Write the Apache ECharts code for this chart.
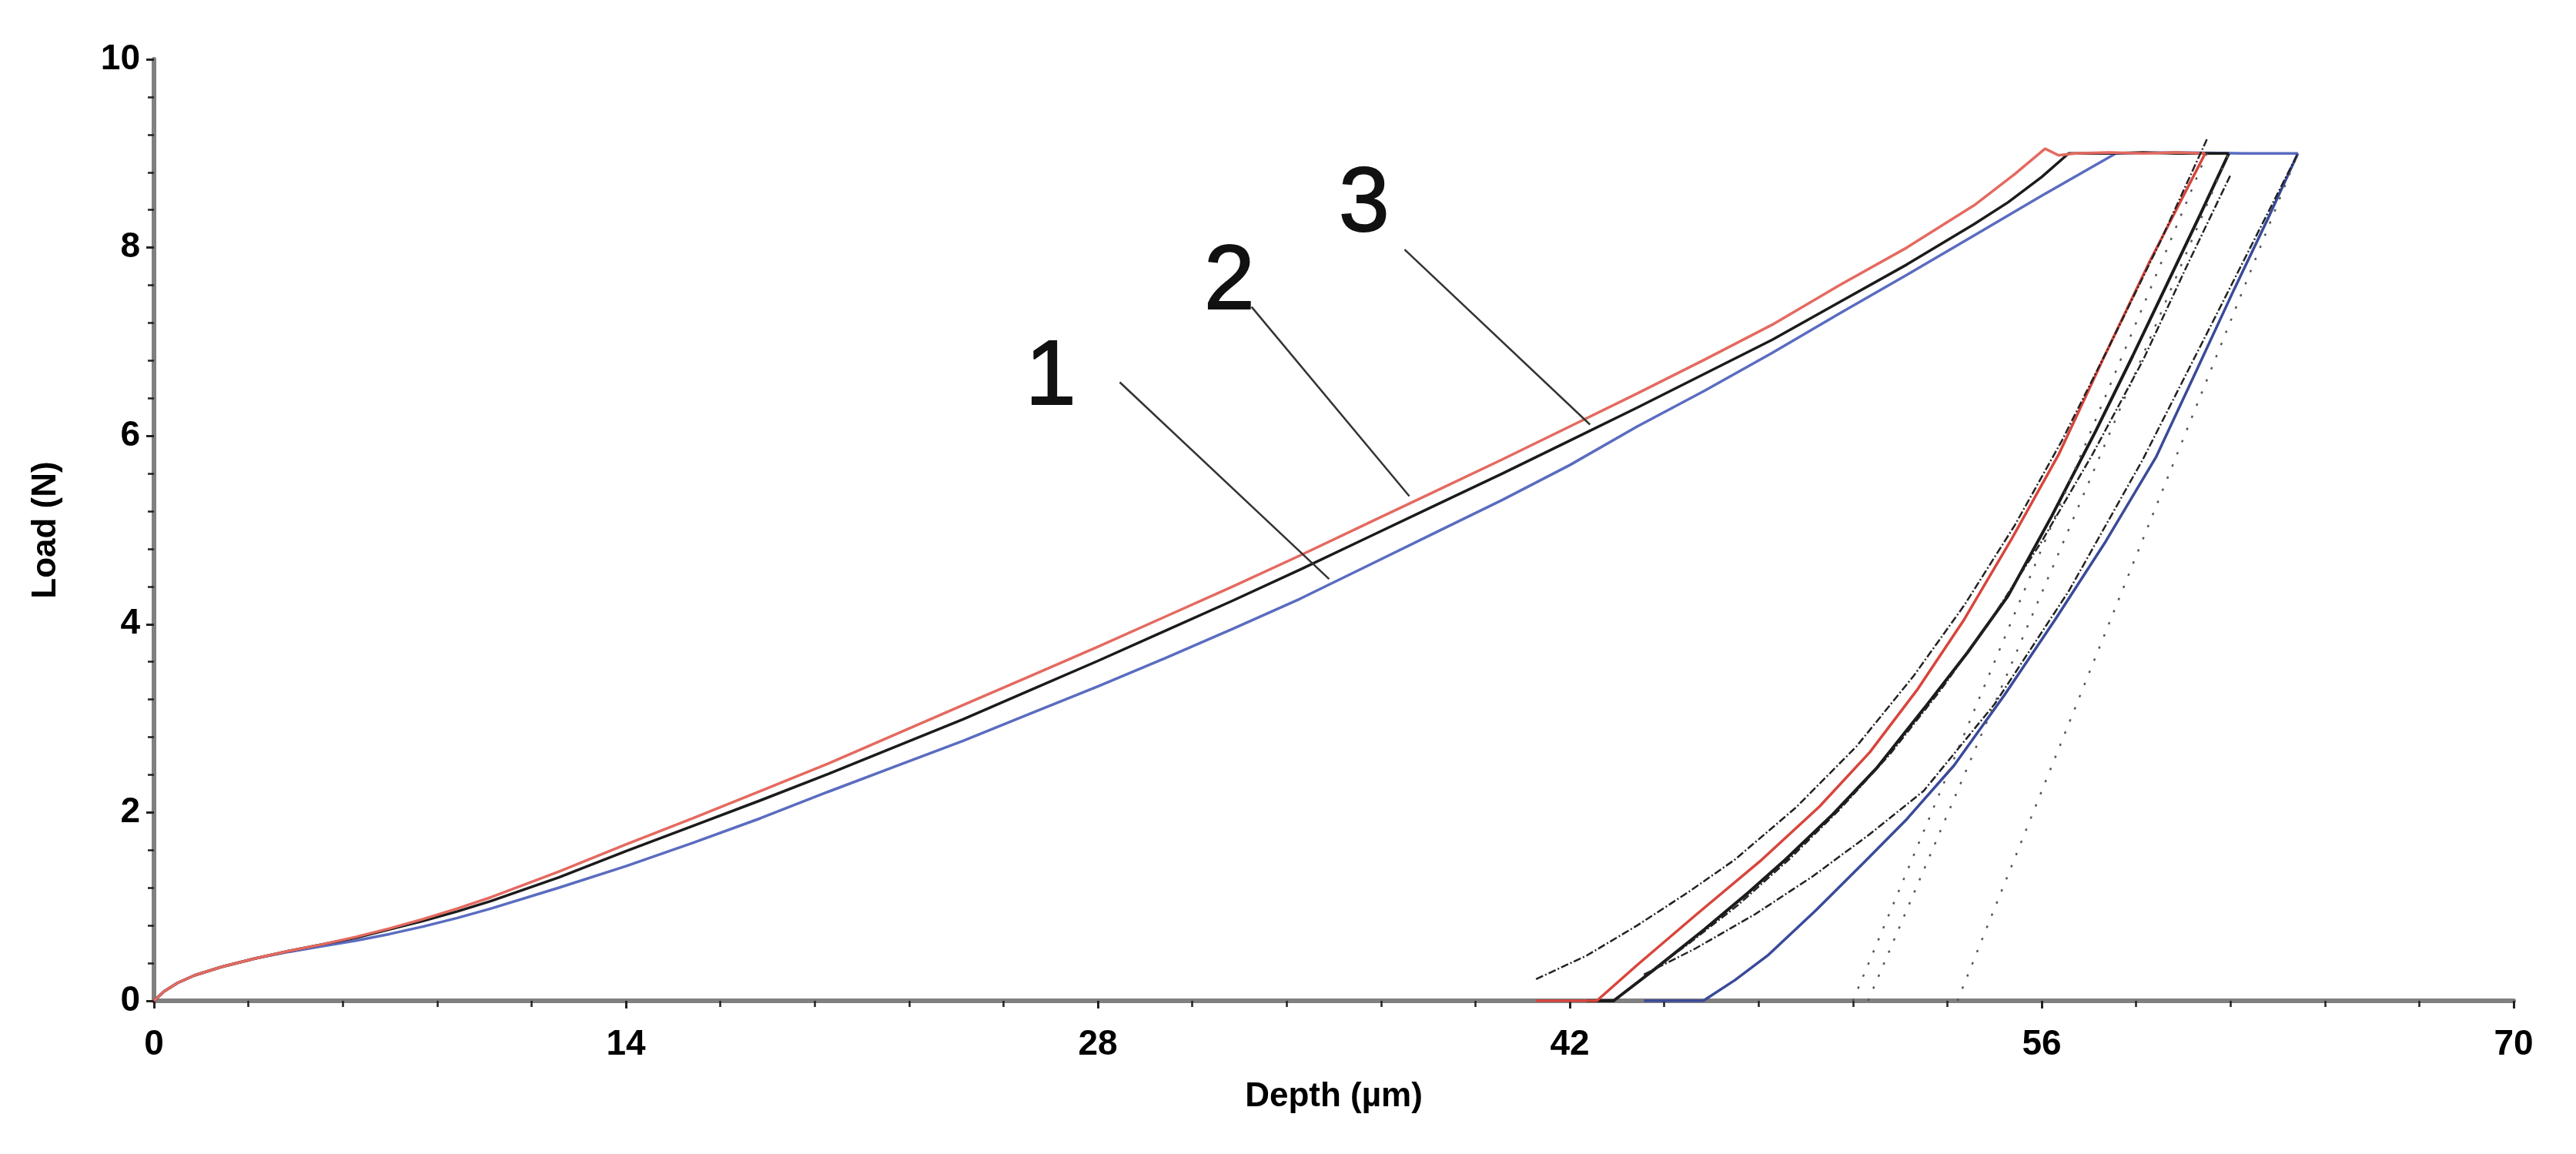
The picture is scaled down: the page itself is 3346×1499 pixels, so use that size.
<!DOCTYPE html>
<html>
<head>
<meta charset="utf-8">
<script src="https://cdn.jsdelivr.net/npm/echarts@6/dist/echarts.min.js"></script>
<style>
  html, body { margin: 0; padding: 0; background: #fff; }
  #chart { width: 3346px; height: 1499px; }
</style>
</head>
<body>
<div id="chart"></div>
<script>
// depth (µm), load (N)
const redLoading = [[0,0],[0.3,0.1],[0.7,0.19],[1.2,0.27],[2,0.36],[3,0.45],[4,0.53],[5,0.6],[6,0.68],[7,0.77],[8,0.87],[9,0.98],[10,1.1],[12,1.37],[14,1.66],[16,1.94],[18,2.23],[20,2.52],[22,2.83],[24,3.14],[26,3.45],[28,3.76],[30,4.08],[32,4.4],[34,4.73],[36,5.07],[38,5.41],[40,5.75],[42,6.1],[44,6.45],[46,6.81],[48,7.18],[50,7.6],[52,8.0],[54,8.45],[55.2,8.78],[56.1,9.05],[56.5,8.98],[57,9.0],[58,9.01],[59,9.0],[60,9.01],[60.85,9.0]];
const redUnloading = [[60.85,9.0],[59.2,7.85],[57.8,6.8],[56.5,5.8],[55.1,4.9],[53.7,4.05],[52.3,3.3],[50.9,2.64],[49.4,2.06],[47.7,1.5],[45.8,0.93],[44,0.38],[42.8,0],[41.0,0]];

const blackLoading = [[0,0],[0.3,0.1],[0.7,0.19],[1.2,0.27],[2,0.36],[3,0.45],[4,0.53],[5,0.6],[6,0.67],[7,0.76],[8,0.85],[9,0.95],[10,1.06],[12,1.31],[14,1.59],[16,1.86],[18,2.13],[20,2.41],[22,2.7],[24,2.99],[26,3.3],[28,3.61],[30,3.93],[32,4.25],[34,4.58],[36,4.92],[38,5.26],[40,5.6],[42,5.95],[44,6.3],[46,6.66],[48,7.02],[50,7.42],[52,7.82],[54,8.25],[55,8.48],[56,8.75],[56.8,9.0],[58,9.0],[59,9.01],[60,9.0],[61.55,9.0]];
const blackUnloading = [[61.55,9.0],[60.7,8.35],[59.7,7.6],[58.7,6.85],[57.6,6.05],[56.3,5.15],[55.0,4.3],[53.8,3.7],[52.5,3.1],[51.1,2.47],[49.8,1.98],[48.4,1.5],[47.3,1.15],[46,0.76],[44.5,0.33],[43.3,0],[42.5,0]];

const blueLoading = [[0,0],[0.3,0.1],[0.7,0.19],[1.2,0.27],[2,0.36],[3,0.45],[4,0.52],[5,0.58],[6,0.64],[7,0.71],[8,0.79],[9,0.88],[10,0.98],[12,1.2],[14,1.43],[16,1.68],[18,1.94],[20,2.22],[22,2.49],[24,2.76],[26,3.05],[28,3.34],[30,3.64],[32,3.95],[34,4.27],[36,4.62],[38,4.97],[40,5.32],[42,5.69],[44,6.1],[46,6.48],[48,6.88],[50,7.3],[52,7.71],[54,8.13],[56,8.55],[58.2,9.0],[60,9.01],[62,9.0],[63.6,9.0]];
const blueUnloading = [[63.6,9.0],[62.7,8.3],[61.7,7.55],[60.6,6.7],[59.4,5.78],[57.9,4.88],[56.4,4.05],[54.9,3.25],[53.4,2.5],[52,1.93],[50.7,1.46],[49.3,0.96],[47.9,0.49],[46.9,0.22],[45.96,0],[44.2,0]];

// fitted unloading curves (dash-dot)
const fitRed = [[41.0,0.23],[42.5,0.48],[44,0.8],[45.5,1.15],[46.9,1.5],[48.7,2.05],[50.5,2.7],[52.2,3.45],[53.7,4.2],[55.2,5.05],[56.6,5.95],[58,6.95],[59.5,8.05],[60.9,9.15]];
const fitBlack = [[44.2,0.26],[45.5,0.6],[47,1.02],[48.5,1.5],[50,2.03],[51.5,2.62],[53,3.3],[54.5,4.05],[56,4.88],[57.5,5.8],[59,6.8],[60.3,7.8],[61.6,8.77]];
const fitBlue = [[44.2,0.28],[45.7,0.55],[47.5,0.92],[49.2,1.32],[50.9,1.77],[52.5,2.23],[54.6,3.15],[56.8,4.35],[59.0,5.75],[61.2,7.3],[63.6,9.0]];

// tangent lines (dotted)
const tangentRed = [[50.4,0],[60.9,9.0]];
const tangentBlack = [[50.85,0],[61.55,9.0]];
const tangentBlue = [[53.5,0],[63.6,9.0]];

// curve numbers and their leader lines
const curveLabels = [[26.6,6.6,'1'],[31.9,7.62,'2'],[35.9,8.44,'3']];
const leader1 = [[28.65,6.57],[34.86,4.48]];
const leader2 = [[32.56,7.37],[37.24,5.36]];
const leader3 = [[37.1,7.98],[42.6,6.12]];

const xTicks = [0, 14, 28, 42, 56, 70];
const yTicks = [0, 2, 4, 6, 8, 10];

const chart = echarts.init(document.getElementById('chart'));

const FONT = 'Liberation Sans, Arial, sans-serif';

function solid(data, color, width, z) {
  return {
    type: 'line', data: data, symbol: 'none', smooth: false, z: z || 3,
    lineStyle: { color: color, width: width }, silent: true
  };
}
function styled(data, type, width, color) {
  return {
    type: 'line', data: data, symbol: 'none', z: 4,
    lineStyle: { color: color, width: width, type: type }, silent: true
  };
}

const axisCommon = {
  axisLine: { show: true, lineStyle: { color: '#808080', width: 6 } },
  axisTick: { show: true, length: 10, lineStyle: { color: '#222', width: 3 } },
  minorTick: { show: true, splitNumber: 5, length: 8, lineStyle: { color: '#222', width: 2.5 } },
  splitLine: { show: false },
  minorSplitLine: { show: false },
  nameLocation: 'middle',
  nameTextStyle: { fontFamily: FONT, fontWeight: 'bold', fontSize: 44, color: '#000' },
  axisLabel: { fontFamily: FONT, fontWeight: 'bold', fontSize: 46, color: '#000' }
};

const option = {
  backgroundColor: '#ffffff',
  animation: false,
  grid: { left: 200, right: 81, top: 77, bottom: 199, containLabel: false },
  xAxis: Object.assign({}, axisCommon, {
    type: 'value', min: xTicks[0], max: xTicks[xTicks.length - 1], interval: 14,
    name: 'Depth (µm)', nameGap: 103,
    axisLabel: Object.assign({}, axisCommon.axisLabel, { margin: 34 })
  }),
  yAxis: Object.assign({}, axisCommon, {
    type: 'value', min: yTicks[0], max: yTicks[yTicks.length - 1], interval: 2,
    name: 'Load (N)', nameGap: 118,
    axisLabel: Object.assign({}, axisCommon.axisLabel, { margin: 18 })
  }),
  series: [
    styled(tangentRed, [3, 14], 2.5, '#555'),
    styled(tangentBlack, [3, 14], 2.5, '#555'),
    styled(tangentBlue, [3, 14], 2.5, '#555'),
    solid(blueLoading, '#5a6cc0', 3.5),
    solid(blueUnloading, '#3a4a9a', 3.5),
    solid(blackLoading, '#1b1b1b', 3.5),
    solid(blackUnloading, '#1b1b1b', 4),
    solid(redLoading, '#e46a60', 3.5),
    solid(redUnloading, '#d8453c', 3.5),
    styled(fitRed, [10, 3, 2, 3], 2.5, '#222'),
    styled(fitBlack, [10, 3, 2, 3], 2.5, '#222'),
    styled(fitBlue, [10, 3, 2, 3], 2.5, '#222'),
    solid(leader1, '#333', 2.5, 5),
    solid(leader2, '#333', 2.5, 5),
    solid(leader3, '#333', 2.5, 5),
    {
      type: 'scatter', data: curveLabels, symbolSize: 0, silent: true, z: 6,
      itemStyle: { color: '#111', opacity: 1 },
      label: {
        show: true, position: 'inside',
        formatter: p => p.data[2],
        fontFamily: FONT, fontSize: 118, color: '#111', opacity: 1,
        textBorderWidth: 2, textBorderColor: '#111'
      }
    }
  ]
};

chart.setOption(option);
</script>
</body>
</html>
